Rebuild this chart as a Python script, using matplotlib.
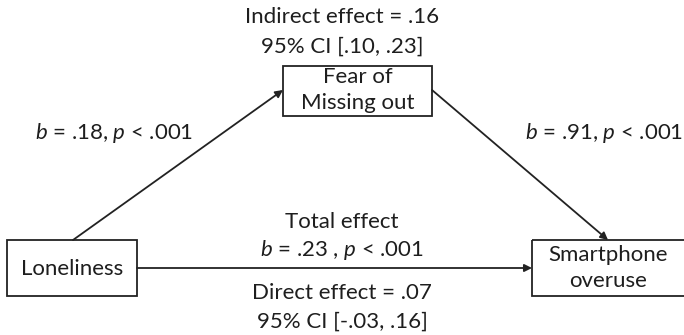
import matplotlib.pyplot as plt
from matplotlib.patches import Rectangle, FancyArrowPatch

plt.rcParams['font.family'] = ['Lato', 'DejaVu Sans']
plt.rcParams['mathtext.fontset'] = 'custom'
plt.rcParams['mathtext.rm'] = 'Lato'
plt.rcParams['mathtext.it'] = 'Lato:italic'

# model values
nodes = ["Loneliness", "Fear of\nMissing out", "Smartphone\noveruse"]
path_a = ".18"
path_b = ".91"
total_b = ".23"
p_text = ".001"
indirect = ".16"
indirect_ci = [".10", ".23"]
direct = ".07"
direct_ci = ["-.03", ".16"]

fig = plt.figure(figsize=(6.84, 3.35), dpi=100)
ax = fig.add_axes([0, 0, 1, 1])
ax.set_xlim(0, 684)
ax.set_ylim(335, 0)
ax.axis('off')

txt = '#1e1e1e'
fs = 16

# boxes (x0, y0, x1, y1) in pixels
boxes = {
    "Loneliness": (7, 240, 137, 296),
    "Fear of\nMissing out": (283, 66, 432, 116),
    "Smartphone\noveruse": (532, 240, 690, 296),
}
for name in nodes:
    x0, y0, x1, y1 = boxes[name]
    ax.add_patch(Rectangle((x0, y0), x1 - x0, y1 - y0, fill=False,
                           ec='#222222', lw=1.3))

ax.text(72, 269, nodes[0], ha='center', va='center', fontsize=fs, color=txt)
ax.text(357.5, 90, nodes[1], ha='center', va='center', fontsize=fs,
        color=txt, linespacing=1.35)
ax.text(608, 268, nodes[2], ha='center', va='center', fontsize=fs,
        color=txt, linespacing=1.4)

def arrow(p0, p1):
    ax.add_patch(FancyArrowPatch(p0, p1, arrowstyle='-|>', mutation_scale=11,
                                 color='#222222', lw=1.3,
                                 shrinkA=0, shrinkB=0))

arrow((73, 240), (283, 90))
arrow((432, 90), (608, 240))
arrow((137, 268), (532, 268))

ax.text(342, 17, f"Indirect effect = {indirect}", ha='center', va='center',
        fontsize=fs, color=txt)
ax.text(342, 47, f"95% CI [{indirect_ci[0]}, {indirect_ci[1]}]", ha='center',
        va='center', fontsize=fs, color=txt)

ax.text(35, 133, f"$b$ = {path_a}, $p$ < {p_text}", ha='left',
        va='center', fontsize=fs, color=txt)
ax.text(525, 133, f"$b$ = {path_b}, $p$ < {p_text}", ha='left',
        va='center', fontsize=fs, color=txt)

ax.text(342, 222, "Total effect", ha='center', va='center', fontsize=fs,
        color=txt)
ax.text(342, 250, f"$b$ = {total_b} , $p$ < {p_text}", ha='center',
        va='center', fontsize=fs, color=txt)
ax.text(342, 293, f"Direct effect = {direct}", ha='center', va='center',
        fontsize=fs, color=txt)
ax.text(342, 322, f"95% CI [{direct_ci[0]}, {direct_ci[1]}]", ha='center',
        va='center', fontsize=fs, color=txt)

plt.savefig('out.png', dpi=100)
